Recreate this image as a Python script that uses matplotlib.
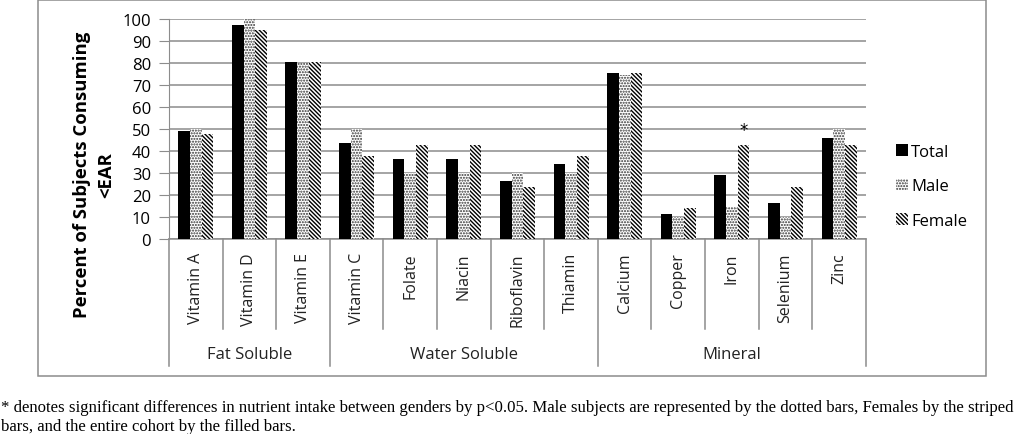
import numpy as np
import matplotlib
matplotlib.use("Agg")
import matplotlib.pyplot as plt
from matplotlib.patches import Rectangle

# data
nutrients = ["Vitamin A", "Vitamin D", "Vitamin E",
             "Vitamin C", "Folate", "Niacin", "Riboflavin", "Thiamin",
             "Calcium", "Copper", "Iron", "Selenium", "Zinc"]
groups = ["Fat Soluble", "Water Soluble", "Mineral"]
group_sizes = [3, 5, 5]
total = [49, 97.5, 80.5, 43.5, 36.5, 36.5, 26.5, 34, 75.5, 11.5, 29, 16.5, 46]
male = [50, 100, 80, 50, 30, 30, 30, 30, 74.5, 10, 14.5, 10, 50]
female = [47.5, 95, 80.5, 37.5, 42.5, 42.5, 23.5, 37.5, 75.5, 14, 42.5, 23.5, 42.5]
significant = ["Iron"]

plt.rcParams["font.family"] = ["Open Sans", "DejaVu Sans"]
plt.rcParams["hatch.linewidth"] = 1.0

fig = plt.figure(figsize=(10.19, 4.35), dpi=100)
ax = fig.add_axes([0.1658, 0.4483, 0.6840, 0.5057])

x = np.arange(len(nutrients)) + 0.5
w = 0.218
ax.bar(x - w, total, w, color="black", edgecolor="black", linewidth=0, label="Total", zorder=3)
ax.bar(x, male, w, color="white", edgecolor="#333333", hatch="......", linewidth=0, label="Male", zorder=3)
ax.bar(x + w, female, w, color="white", edgecolor="black", hatch="\\" * 8, linewidth=0, label="Female", zorder=3)

# significance star
for name in significant:
    i = nutrients.index(name)
    ax.text(x[i] + w, female[i] + 7, "*", ha="center", va="center", fontsize=12,
            family="DejaVu Sans")

ax.set_xlim(0, len(nutrients))
ax.set_ylim(0, 100)
ax.set_yticks(range(0, 101, 10))
ax.yaxis.grid(True, color="#8c8c8c", linewidth=1.1, zorder=0)
ax.set_axisbelow(True)
for s in ["top", "right", "bottom"]:
    ax.spines[s].set_visible(False)
ax.spines["left"].set_color("#8c8c8c")
ax.tick_params(axis="y", length=7, color="#8c8c8c", labelsize=12, pad=6)
ax.set_xticks([])

# bottom axis line and category structure
trans = ax.get_xaxis_transform()
ax.plot([0, len(nutrients)], [0, 0], color="#8c8c8c", lw=1.1, transform=trans, clip_on=False)
for i, name in enumerate(nutrients):
    ax.text(x[i], -0.06, name, rotation=90, ha="center", va="top", fontsize=11.5,
            transform=trans, color="#222222")
bounds = np.cumsum([0] + group_sizes)
for b in range(len(nutrients) + 1):
    depth = -0.577 if b in bounds else -0.409
    ax.plot([b, b], [0, depth], color="#8c8c8c", lw=1.1, transform=trans, clip_on=False)
for g, name in enumerate(groups):
    ax.text((bounds[g] + bounds[g + 1]) / 2, -0.523, name, ha="center", va="center",
            fontsize=12, transform=trans, color="#222222")

ax.set_ylabel("Percent of Subjects Consuming\n<EAR", fontsize=13.3, fontweight="bold",
              linespacing=1.45)
ax.yaxis.set_label_coords(-0.077, 0.295)

leg = ax.legend(loc="center left", bbox_to_anchor=(1.022, 0.24), frameon=False,
                fontsize=12, handlelength=0.7, handleheight=0.7, handletextpad=0.2,
                labelspacing=1.1)

# chart border
fig.patches.append(Rectangle((0.0373, 0.1333), 0.9307, 0.8637, transform=fig.transFigure,
                             fill=False, edgecolor="#8c8c8c", linewidth=1.1))

caption = ("* denotes significant differences in nutrient intake between genders by p<0.05. "
           "Male subjects are represented by the dotted bars, Females by the striped\n"
           "bars, and the entire cohort by the filled bars.")
fig.text(0.001, 0.04, caption, family="Liberation Serif", fontsize=12.1, va="center",
         linespacing=1.25)

fig.savefig("out.png", dpi=100)
